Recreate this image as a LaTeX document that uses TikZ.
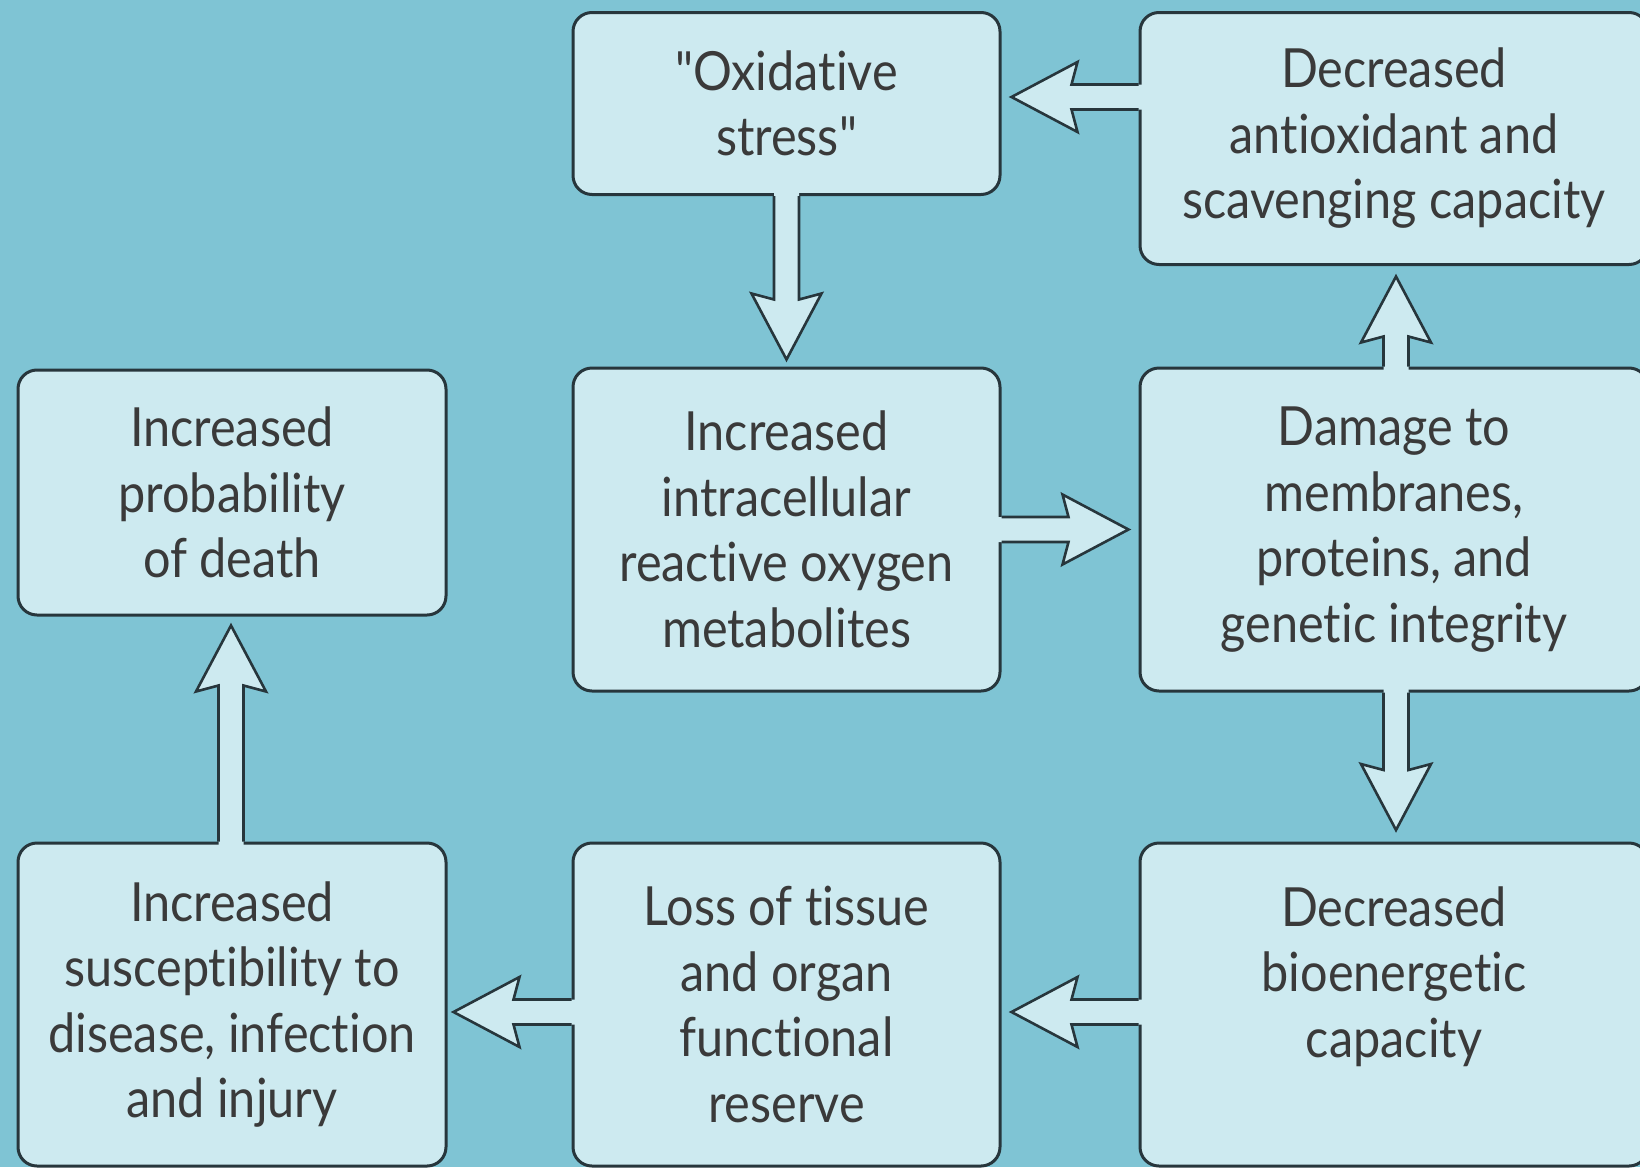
\documentclass[tikz,border=0pt]{standalone}
\usepackage{fontspec}
\setmainfont{Lato}[FakeStretch=0.9, Ligatures={TeXOff,NoCommon}]
\usetikzlibrary{calc}
\definecolor{bg}{HTML}{7FC4D4}
\definecolor{boxfill}{HTML}{CDEAF0}
\definecolor{edge}{HTML}{27363C}
\definecolor{txt}{HTML}{3A3A3A}
\newcommand\fatarrow[2]{%
  \coordinate (fa-s) at (#1);
  \coordinate (fa-t) at (#2);
  \coordinate (fa-h) at ($(fa-t)!60pt!(fa-s)$);
  \coordinate (fa-b) at ($(fa-t)!66pt!(fa-s)$);
  \coordinate (fa-e) at ($(fa-s)!5pt!180:(fa-t)$);
  \fill[boxfill] ($(fa-e)!12.5pt!90:(fa-t)$) -- ($(fa-h)!12.5pt!90:(fa-t)$) -- ($(fa-b)!35pt!90:(fa-t)$) -- (fa-t) -- ($(fa-b)!35pt!-90:(fa-t)$) -- ($(fa-h)!12.5pt!-90:(fa-t)$) -- ($(fa-e)!12.5pt!-90:(fa-t)$) -- cycle;
  \draw[fat] ($(fa-s)!12.5pt!90:(fa-t)$) -- ($(fa-h)!12.5pt!90:(fa-t)$) -- ($(fa-b)!35pt!90:(fa-t)$) -- (fa-t) -- ($(fa-b)!35pt!-90:(fa-t)$) -- ($(fa-h)!12.5pt!-90:(fa-t)$) -- ($(fa-s)!12.5pt!-90:(fa-t)$);
}
\begin{document}
\begin{tikzpicture}[x=1pt,y=-1pt,
  box/.style={draw=edge, line width=3pt, fill=boxfill, rounded corners=19pt,
    align=center, text=txt, inner sep=0pt,
    font=\fontsize{54}{65.5}\selectfont},
  narrowbox/.style={box, minimum width=427pt},
  widebox/.style={box, minimum width=508pt},
  fat/.style={draw=edge, line width=2.6pt, line join=miter}]
\useasboundingbox (0,0) rectangle (1640,1167);
\clip (0,0) rectangle (1640,1167);
\fill[bg] (0,0) rectangle (1640,1167);

\node[narrowbox, minimum height=182pt] (A) at (786.5,103.5) {"Oxidative\\stress"};
\node[widebox, minimum height=252pt] (B) at (1394,138.5) {Decreased\\antioxidant and\\scavenging capacity};
\node[narrowbox, minimum width=428pt, minimum height=245pt] (C) at (232,492.5) {Increased\\probability\\of death};
\node[narrowbox, minimum height=323pt] (D) at (786.5,529.5) {Increased\\intracellular\\reactive oxygen\\metabolites};
\node[widebox, minimum height=323pt] (E) at (1394,529.5) {Damage to\\membranes,\\proteins, and\\genetic integrity};
\node[narrowbox, minimum width=428pt, minimum height=323pt] (F) at (232,1004.5) {Increased\\susceptibility to\\disease, infection\\and injury};
\node[narrowbox, minimum height=323pt] (G) at (786.5,1004.5) {Loss of tissue\\and organ\\functional\\reserve};
\node[widebox, minimum height=323pt] (H) at (1394,1004.5) {Decreased\\bioenergetic\\capacity\\\mbox{}};

\fatarrow{$(B.west)+(0,-41.5)$}{$(A.east)+(10,-6.5)$}
\fatarrow{A.south}{$(D.north)+(0,-7)$}
\fatarrow{D.east}{$(E.west)+(-10,0)$}
\fatarrow{$(E.north)+(2,0)$}{$(B.south)+(2,10.5)$}
\fatarrow{$(E.south)+(2,0)$}{$(H.north)+(2,-11.5)$}
\fatarrow{$(H.west)+(0,7.5)$}{$(G.east)+(10,7.5)$}
\fatarrow{$(G.west)+(0,7.5)$}{$(F.east)+(6,7.5)$}
\fatarrow{$(F.north)+(-1,0)$}{$(C.south)+(-1,9)$}
\end{tikzpicture}
\end{document}
